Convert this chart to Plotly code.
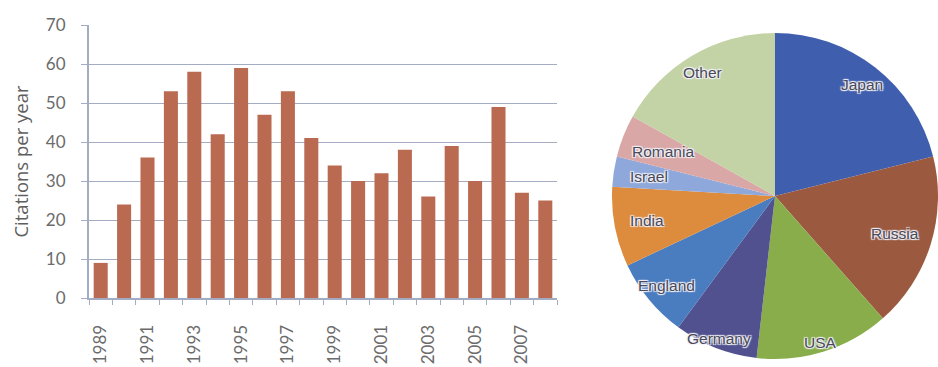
import math
import plotly.graph_objects as go

# Yearly citation counts
years = list(range(1989, 2009))
citations = [9, 24, 36, 53, 58, 42, 59, 47, 53, 41, 34, 30, 32, 38, 26, 39, 30, 49, 27, 25]
year_ticks = [1989, 1991, 1993, 1995, 1997, 1999, 2001, 2003, 2005, 2007]
y_ticks = [0, 10, 20, 30, 40, 50, 60, 70]

# Share of citations by country (%)
countries = ["Japan", "Russia", "USA", "Germany", "England", "India", "Israel", "Romania", "Other"]
shares = [21.1, 17.4, 13.3, 8.3, 7.9, 7.9, 3.0, 4.2, 16.9]
country_colors = ["#3f5fae", "#9b5a40", "#88ad4a", "#51518f", "#4a7cc0",
                  "#dd8c3d", "#8ea8db", "#d9a7a6", "#c3d3a6"]

W, H = 938, 367
grid_color = "#a3acc2"
axis_font = dict(family="Lato, 'Open Sans', sans-serif", size=17, color="#6b6b6b")

# Pie placement (pixels)
pie_left, pie_right = 612, W
pie_cx = (pie_left + pie_right) / 2
pie_r = (pie_right - pie_left) / 2
pie_cy = 196

# How far out (fraction of radius) each slice label sits
label_radius = {"Japan": 0.87, "Russia": 0.77, "USA": 0.94, "Germany": 0.94, "England": 0.86,
                "India": 0.80, "Israel": 0.78, "Romania": 0.74, "Other": 0.88}

fig = go.Figure()

fig.add_trace(go.Bar(
    x=years, y=citations, width=0.6,
    marker=dict(color="#bb6a52", line=dict(width=0)),
    xaxis="x", yaxis="y", showlegend=False,
))

fig.add_trace(go.Pie(
    labels=countries, values=shares, sort=False, direction="clockwise",
    rotation=0,
    marker=dict(colors=country_colors, line=dict(width=0)),
    textinfo="none",
    domain=dict(x=[pie_left / W, pie_right / W],
                y=[(H - pie_cy - pie_r) / H, (H - pie_cy + pie_r) / H]),
    showlegend=False, hoverinfo="label+percent",
))

# Slice labels sit along each slice's mid-angle, near the rim
halo = "#f2f2f9"
label_font = dict(family="'Liberation Sans', Arial, sans-serif", size=15.5, color="#4a4a58",
                  shadow=f"1px 1px 1px {halo}, -1px -1px 1px {halo}, 1px -1px 1px {halo}, -1px 1px 1px {halo}")
total = sum(shares)
start = 0.0
annotations = []
for name, val in zip(countries, shares):
    mid = (start + val / 2) / total * 2 * math.pi
    start += val
    rr = label_radius[name] * pie_r
    px = pie_cx + rr * math.sin(mid)
    py = pie_cy - rr * math.cos(mid)
    annotations.append(dict(
        x=px / W, y=1 - py / H, xref="paper", yref="paper",
        text=name, showarrow=False, font=label_font,
        xanchor="center", yanchor="middle",
    ))

fig.update_layout(
    width=W, height=H,
    margin=dict(l=0, r=0, t=0, b=0),
    paper_bgcolor="white", plot_bgcolor="white",
    annotations=annotations,
    xaxis=dict(
        domain=[89 / W, 557 / W], range=[1988.5, 2008.5], automargin=False,
        tickmode="array", tickvals=year_ticks, ticktext=[str(y) for y in year_ticks],
        tickangle=-90, tickfont=axis_font, ticks="", ticklabelstandoff=18,
        showline=True, linecolor=grid_color, linewidth=2,
        showgrid=False, zeroline=False,
        minor=dict(tick0=1988.5, dtick=1, ticks="outside", ticklen=5,
                   tickcolor=grid_color, tickwidth=1, showgrid=False),
    ),
    yaxis=dict(
        domain=[(H - 298) / H, (H - 25) / H], range=[0, 70], automargin=False,
        tickmode="array", tickvals=y_ticks, tickfont=axis_font,
        ticks="outside", ticklen=6, tickcolor=grid_color, ticklabelstandoff=12,
        showline=True, linecolor=grid_color, linewidth=2,
        showgrid=True, gridcolor=grid_color, gridwidth=1.3, zeroline=False,
        title=dict(text="Citations per year",
                   font=dict(family="'Open Sans', sans-serif", size=18.5, color="#5e5e5e"),
                   standoff=12),
    ),
)

fig.write_html("out.html")
